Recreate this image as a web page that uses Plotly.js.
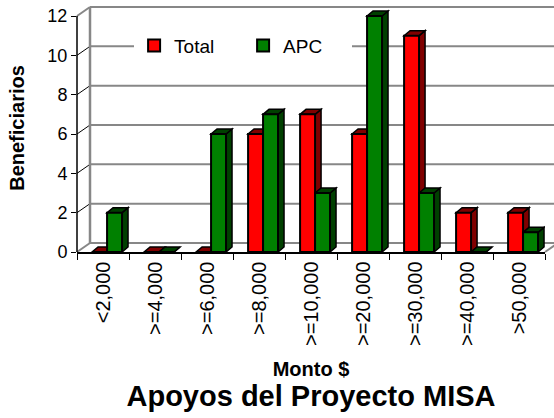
<!DOCTYPE html>
<html>
<head>
<meta charset="utf-8">
<script src="https://cdn.plot.ly/plotly-3.0.1.min.js"></script>
<style>html,body{margin:0;padding:0;background:#fff;}#chart{width:554px;height:418px;}</style>
</head>
<body>
<div id="chart"></div>
<script>
// ---- data ----
var categories = ['<2,000', '>=4,000', '>=6,000', '>=8,000', '>=10,000', '>=20,000', '>=30,000', '>=40,000', '>50,000'];
var totalValues = [0, 0, 0, 6, 7, 6, 11, 2, 2];
var apcValues = [2, 0, 6, 7, 3, 12, 3, 0, 1];
var yTickValues = [0, 2, 4, 6, 8, 10, 12];
var seriesNames = ['Total', 'APC'];

// ---- geometry helpers (styles / layout, not data) ----
var plotL = 77, plotR = 9, plotT = 4, plotB = 166;
var W = 554, H = 418;
var plotW = W - plotL - plotR, plotH = H - plotT - plotB;
var yMaxTick = 12;
var pxPerUnit = 236 / yMaxTick;
var yTop = plotH / pxPerUnit;
var xMin = -0.5, xMax = categories.length - 0.5;
var pxPerCat = plotW / (xMax - xMin);

var barWidth = 0.288;
var offsets = [-0.21, 0.078];
var depthDx = 6 / pxPerCat, depthDy = 5 / pxPerUnit;
var wallDxP = 13 / plotW, wallDyP = 9 / plotH;
function py(v) { return v / yTop; }

var xIdx = categories.map(function (c, i) { return i; });

var frontColors = ['#ff0000', '#008000'];
var faceColors = ['#800000', '#004000'];
var seriesVals = [totalValues, apcValues];

var traces = seriesVals.map(function (vals, s) {
  return {
    type: 'bar', name: seriesNames[s], x: xIdx, y: vals,
    width: barWidth, offset: offsets[s],
    marker: { color: frontColors[s], line: { color: '#000', width: 2 } },
    hoverinfo: 'skip'
  };
});

var shapes = [];
var gray = '#878787';
function pline(x0, y0, x1, y1, color, w) {
  shapes.push({ type: 'line', xref: 'paper', yref: 'paper', x0: x0, y0: y0, x1: x1, y1: y1,
    line: { color: color, width: w }, layer: 'below' });
}
// back wall gridlines
yTickValues.forEach(function (v) {
  pline(wallDxP, py(v) + wallDyP, 1 + wallDxP + 0.05, py(v) + wallDyP, gray, 2);
  // left wall diagonals
  var edge = (v === 0 || v === yMaxTick);
  pline(0, py(v), wallDxP, py(v) + wallDyP, edge ? gray : '#000', edge ? 2 : 1);
});
// back wall left edge
pline(wallDxP, py(0) + wallDyP, wallDxP, py(yMaxTick) + wallDyP, gray, 2.5);
// right floor edge
pline(1, 0, 1 + wallDxP, wallDyP, gray, 2);
// front y axis line
shapes.push({ type: 'line', xref: 'paper', yref: 'paper', x0: 0, y0: 0, x1: 0, y1: py(yMaxTick),
  line: { color: '#000', width: 1.5 }, layer: 'above' });

// 3D faces of bars
seriesVals.forEach(function (vals, s) {
  vals.forEach(function (v, i) {
    var x0 = i + offsets[s], x1 = x0 + barWidth;
    var top = 'M' + x0 + ',' + v + 'L' + x1 + ',' + v + 'L' + (x1 + depthDx) + ',' + (v + depthDy) +
      'L' + (x0 + depthDx) + ',' + (v + depthDy) + 'Z';
    var side = 'M' + x1 + ',0L' + x1 + ',' + v + 'L' + (x1 + depthDx) + ',' + (v + depthDy) +
      'L' + (x1 + depthDx) + ',' + depthDy + 'Z';
    shapes.push({ type: 'path', xref: 'x', yref: 'y', path: side, fillcolor: faceColors[s],
      line: { color: '#000', width: 1.5 }, layer: 'below' });
    shapes.push({ type: 'path', xref: 'x', yref: 'y', path: top, fillcolor: faceColors[s],
      line: { color: '#000', width: 1.5 }, layer: 'below' });
  });
});

var font = 'Liberation Sans, Arial, sans-serif';
var layout = {
  width: W, height: H,
  margin: { l: plotL, r: plotR, t: plotT, b: plotB, pad: 0 },
  paper_bgcolor: '#fff', plot_bgcolor: '#fff',
  font: { family: font, color: '#000' },
  barmode: 'overlay',
  showlegend: true,
  legend: {
    orientation: 'h', x: 0.122, y: 0.832, xanchor: 'left', yanchor: 'middle',
    bgcolor: '#fff', borderwidth: 0, font: { size: 19, family: font },
    entrywidth: 64, entrywidthmode: 'pixels',
    itemclick: false, traceorder: 'normal'
  },
  title: {
    text: 'Apoyos del Proyecto MISA', xref: 'paper', x: 0.5, xanchor: 'center',
    yref: 'container', y: 1 - 396 / H, yanchor: 'middle',
    font: { size: 29, weight: 'bold', family: font }
  },
  xaxis: {
    range: [xMin, xMax], tickmode: 'array', tickvals: xIdx, ticktext: categories,
    ticks: '', tickangle: -90, tickfont: { size: 20 }, showgrid: false, zeroline: false,
    showline: true, linecolor: '#000', linewidth: 1.5,
    minor: { tick0: -0.5, dtick: 1, ticks: 'outside', ticklen: 6, tickcolor: '#000', tickwidth: 1, showgrid: false },
    title: { text: 'Monto $', font: { size: 20, weight: 'bold' }, standoff: 17 },
    automargin: false, fixedrange: true
  },
  yaxis: {
    range: [0, yTop], tickmode: 'array', tickvals: yTickValues,
    ticks: 'outside', ticklen: 5, tickcolor: '#000', tickwidth: 1,
    tickfont: { size: 18 }, showgrid: false, zeroline: false, showline: false,
    title: { text: 'Beneficiarios', font: { size: 20, weight: 'bold' }, standoff: 17 },
    automargin: false, fixedrange: true
  },
  shapes: shapes
};

Plotly.newPlot('chart', traces, layout, { staticPlot: true, displayModeBar: false });
</script>
</body>
</html>
